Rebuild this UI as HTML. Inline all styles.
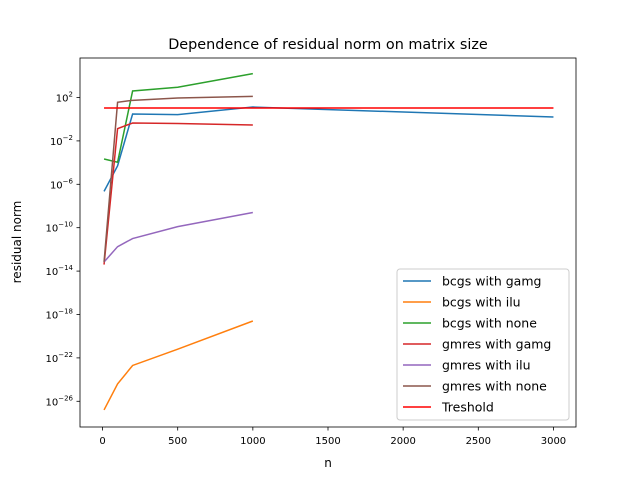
<!DOCTYPE html>
<html><head><meta charset="utf-8"><style>
body{margin:0;background:#fff;font-family:"Liberation Sans","DejaVu Sans",sans-serif}
svg text{font-family:"DejaVu Sans","Liberation Sans",sans-serif}
</style></head><body>
<svg id="chart" width="640" height="480" xmlns="http://www.w3.org/2000/svg">
<rect width="640" height="480" fill="#fff"/>
<text x="328" y="49" font-size="14.4" text-anchor="middle">Dependence of residual norm on matrix size</text>
<g id="plot"></g>
<text x="328" y="467" font-size="12" text-anchor="middle">n</text>
<text transform="translate(21,242) rotate(-90)" font-size="12" text-anchor="middle">residual norm</text>
</svg>
<script>
const nSmall=[10,100,200,500,1000];
const nBcgsGamg=[10,100,200,500,1000,3000];
const bcgsGamg=[-6.65,-4.3,0.48,0.42,1.12,0.2];
const bcgsIlu=[-26.8,-24.4,-22.7,-21.2,-18.6];
const bcgsNone=[-3.67,-3.97,2.6,2.94,4.2];
const gmresGamg=[-13.4,-0.87,-0.35,-0.4,-0.53];
const gmresIlu=[-13.16,-11.75,-11.0,-9.9,-8.6];
const gmresNone=[-13.16,1.56,1.74,1.95,2.1];
const tresholdN=[10,3000];
const treshold=[1.03,1.03];
const xTicks=[0,500,1000,1500,2000,2500,3000];
const yTicks=[2,-2,-6,-10,-14,-18,-22,-26];
const L=80,R=576,T=58,B=427;
const xMin=-150,xMax=3150,yMin=-28.37,yMax=5.64;
const sx=v=>L+(v-xMin)/(xMax-xMin)*(R-L);
const sy=v=>B-(v-yMin)/(yMax-yMin)*(B-T);
const NS="http://www.w3.org/2000/svg";
const g=document.getElementById('plot');
function mk(t,a){const e=document.createElementNS(NS,t);for(const k in a)e.setAttribute(k,a[k]);return e;}
xTicks.forEach(v=>{
 const l=mk('line',{x1:sx(v),x2:sx(v),y1:B,y2:B+3.5,stroke:'#000','stroke-width':0.8});
 
 
 g.appendChild(l);
 const t=mk('text',{x:sx(v),y:B+17,'font-size':10,'text-anchor':'middle'});t.textContent=v;
 
 
 g.appendChild(t);
});
yTicks.forEach(v=>{
 const l=mk('line',{x1:L-3.5,x2:L,y1:sy(v),y2:sy(v),stroke:'#000','stroke-width':0.8});
 
 
 g.appendChild(l);
 const t=mk('text',{x:L-7,y:sy(v)+4,'font-size':10,'text-anchor':'end'});
 
 
 const a=document.createElementNS(NS,'tspan');a.textContent='10';
 const b=document.createElementNS(NS,'tspan');b.setAttribute('dy','-5');b.setAttribute('font-size','7');b.textContent=(v<0?'\u2212':'')+Math.abs(v);
 t.appendChild(a);t.appendChild(b);g.appendChild(t);
});
const series=[
 ['bcgs with gamg','#1f77b4',nBcgsGamg,bcgsGamg],
 ['bcgs with ilu','#ff7f0e',nSmall,bcgsIlu],
 ['bcgs with none','#2ca02c',nSmall,bcgsNone],
 ['gmres with gamg','#d62728',nSmall,gmresGamg],
 ['gmres with ilu','#9467bd',nSmall,gmresIlu],
 ['gmres with none','#8c564b',nSmall,gmresNone],
 ['Treshold','#ff0000',tresholdN,treshold]];
series.forEach(s=>{
 const p=mk('polyline',{points:s[2].map((x,i)=>sx(x)+','+sy(s[3][i])).join(' '),fill:'none',stroke:s[1],'stroke-width':1.5});
 
 
 g.appendChild(p);
});
const frame=mk('rect',{x:L,y:T,width:R-L,height:B-T,fill:'none',stroke:'#000','stroke-width':0.8});


g.appendChild(frame);
const lg=mk('rect',{x:397,y:269,width:172,height:151,rx:3,fill:'#fff','fill-opacity':0.8,stroke:'#ccc','stroke-width':1});


g.appendChild(lg);
series.forEach((s,i)=>{
 const y=281+i*21;
 const l=mk('line',{x1:403,x2:431,y1:y,y2:y,stroke:s[1],'stroke-width':1.5});
 
 
 g.appendChild(l);
 const t=mk('text',{x:442,y:y+4.5,'font-size':12.5});t.textContent=s[0];
 
 
 g.appendChild(t);
});
</script>
</body></html>
